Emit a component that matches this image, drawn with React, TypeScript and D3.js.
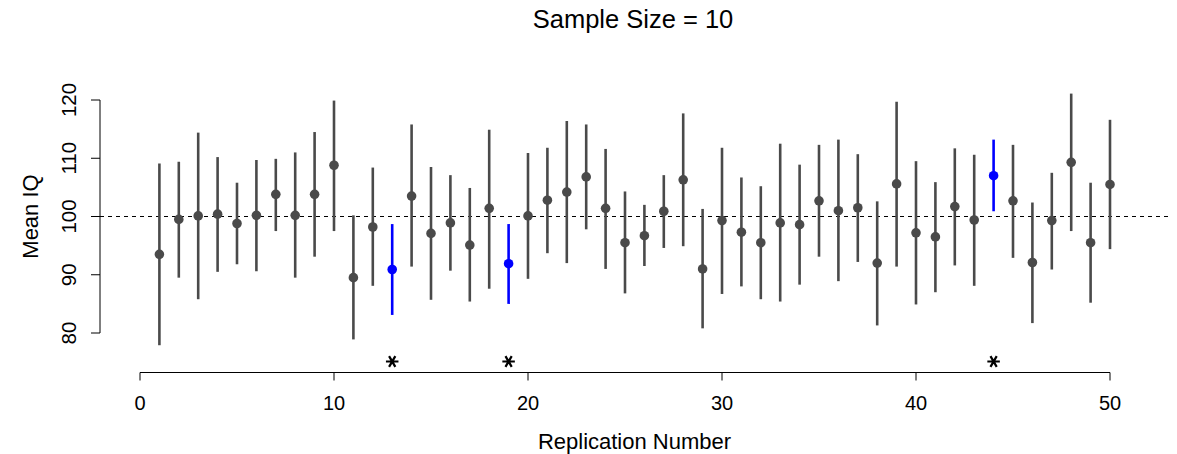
import React from "react";
import * as d3 from "d3";

const replications: number[] = d3.range(1, 51);
const means: number[] = [
  93.5, 99.5, 100.1, 100.4, 98.8, 100.2, 103.8, 100.2, 103.8, 108.8,
  89.5, 98.2, 90.9, 103.5, 97.1, 98.9, 95.1, 101.4, 91.9, 100.1,
  102.8, 104.2, 106.8, 101.4, 95.5, 96.7, 100.9, 106.3, 91.0, 99.3,
  97.3, 95.5, 98.9, 98.6, 102.7, 101.0, 101.5, 92.0, 105.6, 97.2,
  96.5, 101.7, 99.4, 107.0, 102.7, 92.1, 99.3, 109.3, 95.5, 105.5,
];
const uppers: number[] = [
  109.1, 109.4, 114.4, 110.2, 105.8, 109.7, 109.9, 111.0, 114.5, 119.9,
  100.2, 108.4, 98.7, 115.8, 108.5, 107.1, 104.9, 114.9, 98.7, 110.9,
  111.8, 116.4, 115.8, 111.6, 104.3, 102.0, 107.1, 117.7, 101.3, 111.8,
  106.7, 105.2, 112.5, 108.9, 112.3, 113.2, 110.7, 102.6, 119.7, 109.5,
  105.9, 111.7, 110.6, 113.2, 112.3, 102.4, 107.5, 121.1, 105.8, 116.6,
];
const lowers: number[] = [
  77.9, 89.5, 85.8, 90.5, 91.8, 90.6, 97.5, 89.5, 93.1, 97.5,
  78.9, 88.1, 83.1, 91.4, 85.7, 90.7, 85.4, 87.6, 85.0, 89.3,
  93.7, 92.0, 97.8, 91.0, 86.8, 91.5, 94.6, 94.9, 80.8, 86.7,
  88.0, 85.8, 85.4, 88.3, 93.1, 88.9, 92.2, 81.3, 91.4, 84.9,
  87.0, 91.6, 88.1, 100.9, 92.9, 81.7, 90.9, 97.5, 85.2, 94.4,
];
const missed: number[] = [13, 19, 44];
const xTicks: number[] = [0, 10, 20, 30, 40, 50];
const yTicks: number[] = [80, 90, 100, 110, 120];
const trueMean = 100;
const title = "Sample Size = 10";
const xTitle = "Replication Number";
const yTitle = "Mean IQ";

const W = 1177;
const H = 454;
const FONT = "'Liberation Sans', Arial, Helvetica, sans-serif";
const GREY = "#4a4a4a";
const BLUE = "#0000ff";

export default function App() {
  const x = d3.scaleLinear().domain([0, 50]).range([140, 1110]);
  const y = d3.scaleLinear().domain([80, 120]).range([333, 100]);
  const axisY = 372.5;
  const yAxisX = 100;
  const plotRight = 1169;
  const plotCenter = (yAxisX + plotRight) / 2;
  const star = d3.symbol().type(d3.symbolAsterisk).size(110)() as string;

  return (
    <svg
      width={W}
      height={H}
      viewBox={`0 0 ${W} ${H}`}
      style={{ position: "absolute", left: 0, top: 0, background: "#fff" }}
      fontFamily={FONT}
    >
      <text x={633} y={28} textAnchor="middle" fontSize={25.5} fill="#000">
        {title}
      </text>

      {/* reference line */}
      <line
        x1={yAxisX}
        x2={plotRight}
        y1={y(trueMean)}
        y2={y(trueMean)}
        stroke="#000"
        strokeWidth={1.2}
        strokeDasharray="4,4"
      />

      {/* intervals */}
      {replications.map((r, i) => {
        const col = missed.includes(r) ? BLUE : GREY;
        return (
          <g key={r}>
            <line
              x1={x(r)}
              x2={x(r)}
              y1={y(lowers[i])}
              y2={y(uppers[i])}
              stroke={col}
              strokeWidth={2.6}
            />
            <circle cx={x(r)} cy={y(means[i])} r={4.8} fill={col} />
          </g>
        );
      })}

      {/* asterisks */}
      {missed.map((r) => (
        <path
          key={r}
          d={star}
          transform={`translate(${x(r)},361.5) rotate(90)`}
          fill="none"
          stroke="#000"
          strokeWidth={2.2}
        />
      ))}

      {/* x axis */}
      <line x1={x(0)} x2={x(50)} y1={axisY} y2={axisY} stroke="#000" strokeWidth={1} />
      {xTicks.map((t) => (
        <g key={t}>
          <line x1={x(t)} x2={x(t)} y1={axisY} y2={axisY + 8} stroke="#000" strokeWidth={1} />
          <text x={x(t)} y={410} textAnchor="middle" fontSize={20} fill="#000">
            {t}
          </text>
        </g>
      ))}
      <text x={plotCenter} y={449} textAnchor="middle" fontSize={22} fill="#000">
        {xTitle}
      </text>

      {/* y axis */}
      <line x1={yAxisX} x2={yAxisX} y1={y(80)} y2={y(120)} stroke="#000" strokeWidth={1} />
      {yTicks.map((t) => (
        <g key={t}>
          <line x1={yAxisX - 9} x2={yAxisX} y1={y(t)} y2={y(t)} stroke="#000" strokeWidth={1} />
          <text
            transform={`translate(76,${y(t)}) rotate(-90)`}
            textAnchor="middle"
            fontSize={20.5}
            fill="#000"
          >
            {t}
          </text>
        </g>
      ))}
      <text
        transform={`translate(38,${y(100)}) rotate(-90)`}
        textAnchor="middle"
        fontSize={22}
        fill="#000"
      >
        {yTitle}
      </text>
    </svg>
  );
}
